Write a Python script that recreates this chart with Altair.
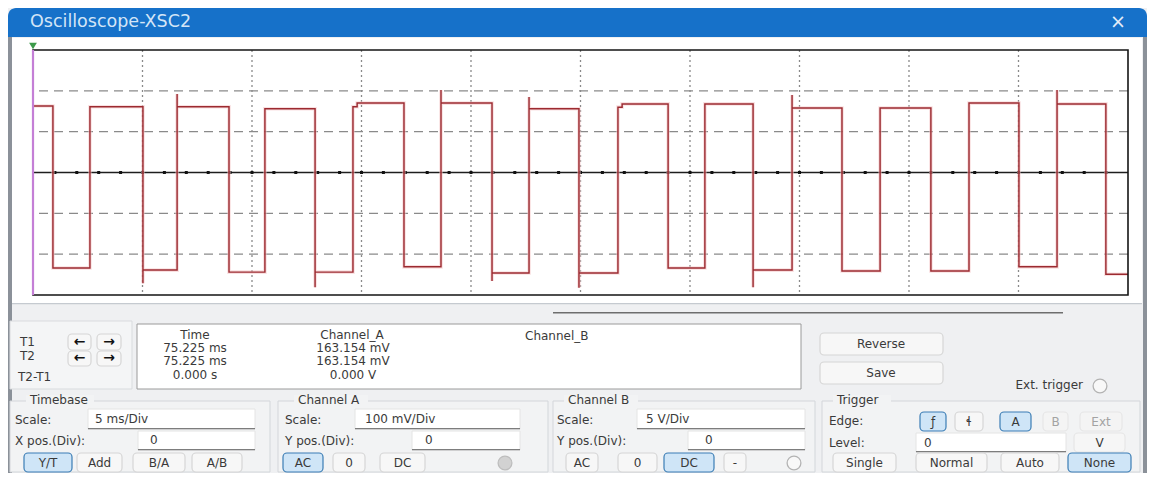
import altair as alt
import pandas as pd

# ------------------------------------------------------------------ data
# Channel A trace (time in ms, amplitude in mV), read from the screen
wave_t = [
    0.00, 0.91, 0.91, 2.60, 2.60, 5.02, 5.02, 5.02, 6.58, 6.58, 6.58,
    8.95, 8.95, 10.59, 10.59, 12.88, 12.88, 12.88, 14.61, 14.61, 14.80, 14.80,
    16.94, 16.94, 18.63, 18.63, 18.63, 20.96, 20.96, 20.96, 22.65, 22.65, 22.65,
    24.93, 24.93, 24.93, 26.71, 26.71, 26.90, 26.90, 29.00, 29.00, 30.68, 30.68,
    32.88, 32.88, 32.88, 34.66, 34.66, 34.66, 36.94, 36.94, 38.68, 38.68, 41.00, 41.00,
    42.74, 42.74, 45.02, 45.02, 46.76, 46.76, 46.76, 48.99, 48.99, 50.00]
wave_mv = [
    163, 163, -234, -234, 161, 161, -271, -239, -239, 192, 161,
    161, -244, -244, 156, 156, -281, -244, -244, 161, 161, 170,
    170, -231, -231, 202, 170, 170, -266, -246, -246, 185, 156,
    156, -282, -246, -246, 160, 160, 168, 168, -234, -234, 168,
    168, -281, -239, -239, 190, 158, 158, -241, -241, 158, 158, -241,
    -241, 170, 170, -231, -231, 202, 168, 168, -249, -249]

grid_t = [5, 10, 15, 20, 25, 30, 35, 40, 45]
grid_mv = [-200, -100, 100, 200]
minor_t = list(range(1, 50))
cursor_t = [0]

time_vals = ["75.225 ms", "75.225 ms", "0.000 s"]
cha_vals = ["163.154 mV", "163.154 mV", "0.000 V"]

# ------------------------------------------------------------------ layout
W, H = 1095, 245
OX, OY = 33, 50          # page position of the screen's top-left corner
BG = "#eff0f2"
TXT = "#3a3a3a"
NBF, NBS = "#f7f7f7", "#d6d6d6"     # normal button
HBF, HBS = "#cfe5f7", "#3b7db5"     # highlighted button


def rect_layer(rows, radius=0, sw=1.0):
    df = pd.DataFrame(rows, columns=["x1", "y1", "x2", "y2", "fill", "stroke"])
    df["x1"] -= OX
    df["x2"] -= OX
    df["y1"] -= OY
    df["y2"] -= OY
    return alt.Chart(df).mark_rect(cornerRadius=radius, strokeWidth=sw).encode(
        x=alt.X("x1:Q", scale=None, axis=None), x2="x2:Q",
        y=alt.Y("y1:Q", scale=None, axis=None), y2="y2:Q",
        fill=alt.Fill("fill:N", scale=None, legend=None),
        stroke=alt.Stroke("stroke:N", scale=None, legend=None))


def text_layer(rows, align="left", font="DejaVu Sans", weight="normal"):
    df = pd.DataFrame(rows, columns=["label", "x", "y", "fs", "color"])
    df["x"] -= OX
    df["y"] -= OY
    return alt.Chart(df).mark_text(align=align, baseline="middle", font=font,
                                   fontWeight=weight).encode(
        x=alt.X("x:Q", scale=None, axis=None),
        y=alt.Y("y:Q", scale=None, axis=None),
        text="label:N",
        size=alt.Size("fs:Q", scale=None, legend=None),
        color=alt.Color("color:N", scale=None, legend=None))


T = "transparent"
panels = rect_layer([
    (8, 37, 12, 473, "#8b9199", T),
    (1143, 37, 1147, 473, "#8b9199", T),
    (12, 38, 1142, 303, "#ffffff", T),
    (12, 303, 1142, 304.2, "#c5cad0", T),
    (553, 312, 1063, 313.5, "#6e6e6e", T),
    (10, 321, 132, 389, "#f4f5f6", "#d9dbde"),
    (137, 324, 801, 389, "#ffffff", "#9a9a9a"),
    (10, 401, 270, 472, "#f2f3f4", "#d3d6da"),
    (278, 401, 548, 472, "#f2f3f4", "#d3d6da"),
    (553, 401, 815, 472, "#f2f3f4", "#d3d6da"),
    (822, 401, 1140, 472, "#f2f3f4", "#d3d6da"),
    (26, 395, 94, 407, "#f2f3f4", T),
    (294, 395, 368, 407, "#f2f3f4", T),
    (564, 395, 638, 407, "#f2f3f4", T),
    (833, 395, 891, 407, "#f2f3f4", T),
    # entry fields
    (88, 409, 255, 429, "#ffffff", "#e4e4e4"),
    (138, 431, 255, 450, "#ffffff", "#e4e4e4"),
    (355, 409, 520, 429, "#ffffff", "#e4e4e4"),
    (412, 431, 520, 450, "#ffffff", "#e4e4e4"),
    (637, 409, 805, 429, "#ffffff", "#e4e4e4"),
    (688, 431, 805, 450, "#ffffff", "#e4e4e4"),
    (916, 433, 1066, 452, "#ffffff", "#e4e4e4"),
    (88, 428, 255, 429.2, "#7d7d7d", T),
    (138, 449, 255, 450.2, "#7d7d7d", T),
    (355, 428, 520, 429.2, "#7d7d7d", T),
    (412, 449, 520, 450.2, "#7d7d7d", T),
    (637, 428, 805, 429.2, "#7d7d7d", T),
    (688, 449, 805, 450.2, "#7d7d7d", T),
    (916, 451, 1066, 452.2, "#7d7d7d", T),
])

title_df = pd.DataFrame({"x1": [8 - OX], "x2": [1147 - OX], "y1": [8 - OY], "y2": [37 - OY]})
titlebar = alt.Chart(title_df).mark_rect(
    color="#1671c9", cornerRadiusTopLeft=8, cornerRadiusTopRight=8).encode(
    x=alt.X("x1:Q", scale=None, axis=None), x2="x2:Q",
    y=alt.Y("y1:Q", scale=None, axis=None), y2="y2:Q")

buttons = rect_layer([
    (68, 334, 91, 350, NBF, NBS), (97, 334, 121, 350, NBF, NBS),
    (68, 351, 91, 366, NBF, NBS), (97, 351, 121, 366, NBF, NBS),
    (820, 333, 943, 355, NBF, NBS), (820, 362, 943, 384, NBF, NBS),
    (24, 453, 72, 472, HBF, HBS), (77, 453, 122, 472, NBF, NBS),
    (133, 453, 185, 472, NBF, NBS), (192, 453, 242, 472, NBF, NBS),
    (283, 453, 323, 472, HBF, HBS), (333, 453, 365, 472, NBF, NBS),
    (380, 453, 425, 472, NBF, NBS),
    (566, 453, 598, 472, NBF, NBS), (618, 453, 657, 472, NBF, NBS),
    (664, 453, 714, 472, HBF, HBS), (724, 453, 746, 472, NBF, NBS),
    (920, 412, 946, 431, HBF, HBS), (955, 412, 983, 431, NBF, NBS),
    (1000, 412, 1031, 431, HBF, HBS), (1043, 412, 1068, 431, "#f4f4f4", "#e6e6e6"),
    (1080, 412, 1122, 431, "#f4f4f4", "#e6e6e6"), (1074, 433, 1125, 452, "#f6f6f6", "#e6e6e6"),
    (833, 453, 896, 472, NBF, NBS), (916, 453, 987, 472, NBF, NBS),
    (1001, 453, 1059, 472, NBF, NBS), (1068, 453, 1131, 472, HBF, HBS),
], radius=4, sw=1.2)

circ_df = pd.DataFrame({"x": [1100 - OX, 505 - OX, 794 - OX],
                        "y": [386 - OY, 463 - OY, 463 - OY],
                        "fill": ["#f8f8f8", "#d2d2d2", "#f8f8f8"],
                        "stroke": ["#b3b3b3", "#bdbdbd", "#b3b3b3"]})
circles = alt.Chart(circ_df).mark_circle(size=190, strokeWidth=1.3, opacity=1).encode(
    x=alt.X("x:Q", scale=None, axis=None), y=alt.Y("y:Q", scale=None, axis=None),
    fill=alt.Fill("fill:N", scale=None, legend=None),
    stroke=alt.Stroke("stroke:N", scale=None, legend=None))

marker = alt.Chart(pd.DataFrame({"x": [33 - OX], "y": [46 - OY]})).mark_point(
    shape="triangle-down", filled=True, color="#3c9a4a", size=60, opacity=1).encode(
    x=alt.X("x:Q", scale=None, axis=None), y=alt.Y("y:Q", scale=None, axis=None))

# ------------------------------------------------------------------ scope screen
xs = alt.Scale(domain=[0, 50], nice=False, zero=False)
ys = alt.Scale(domain=[-300, 300], nice=False, zero=False)

vgrid = alt.Chart(pd.DataFrame({"t": grid_t})).mark_rule(
    color="#8a8a8a", strokeDash=[2, 3], strokeWidth=1.3).encode(
    x=alt.X("t:Q", scale=xs, axis=None))
hgrid = alt.Chart(pd.DataFrame({"mv": grid_mv})).mark_rule(
    color="#8a8a8a", strokeDash=[9, 6], strokeWidth=1.1).encode(
    y=alt.Y("mv:Q", scale=ys, axis=None))
center = alt.Chart(pd.DataFrame({"mv": [0]})).mark_rule(
    color="#1e1e1e", strokeWidth=1.5).encode(y=alt.Y("mv:Q", scale=ys, axis=None))
dots = alt.Chart(pd.DataFrame({"t": minor_t, "mv": [0] * len(minor_t)})).mark_square(
    size=9, color="#111111", opacity=1).encode(
    x=alt.X("t:Q", scale=xs, axis=None), y=alt.Y("mv:Q", scale=ys, axis=None))

wave_df = pd.DataFrame({"i": list(range(len(wave_t))), "t": wave_t, "mv": wave_mv})
halo = alt.Chart(wave_df).mark_line(color="#f4c6c8", strokeWidth=3.6, opacity=0.55).encode(
    x=alt.X("t:Q", scale=xs, axis=None), y=alt.Y("mv:Q", scale=ys, axis=None),
    order=alt.Order("i:Q"))
trace = alt.Chart(wave_df).mark_line(color="#9c2a30", strokeWidth=1.45).encode(
    x=alt.X("t:Q", scale=xs, axis=None), y=alt.Y("mv:Q", scale=ys, axis=None),
    order=alt.Order("i:Q"))

border = alt.Chart(pd.DataFrame({"t": [0], "t2": [50], "mv": [-300], "mv2": [300]})).mark_rect(
    fillOpacity=0, stroke="#151515", strokeWidth=1.6).encode(
    x=alt.X("t:Q", scale=xs, axis=None), x2="t2:Q",
    y=alt.Y("mv:Q", scale=ys, axis=None), y2="mv2:Q")
cursor = alt.Chart(pd.DataFrame({"t": cursor_t})).mark_rule(
    color="#c47fd6", strokeWidth=2.2).encode(x=alt.X("t:Q", scale=xs, axis=None))

# ------------------------------------------------------------------ texts
title_txt = text_layer([("Oscilloscope-XSC2", 30, 22, 17.5, "#d3e5f7")])
close_txt = text_layer([("×", 1118, 22, 19, "#e3edf8")], align="center")

left_txt = text_layer([
    ("T1", 20, 342, 12, TXT), ("T2", 20, 356, 12, TXT), ("T2-T1", 18, 377, 12, TXT),
    ("Channel_B", 525, 336, 12, TXT),
    ("Timebase", 30, 400, 12, TXT), ("Scale:", 15, 420, 12, TXT),
    ("5 ms/Div", 95, 419, 12, TXT), ("X pos.(Div):", 15, 441, 12, TXT), ("0", 150, 440, 12, TXT),
    ("Channel A", 298, 400, 12, TXT), ("Scale:", 285, 420, 12, TXT),
    ("100 mV/Div", 365, 419, 12, TXT), ("Y pos.(Div):", 285, 441, 12, TXT), ("0", 425, 440, 12, TXT),
    ("Channel B", 568, 400, 12, TXT), ("Scale:", 557, 420, 12, TXT),
    ("5  V/Div", 646, 419, 12, TXT), ("Y pos.(Div):", 557, 441, 12, TXT), ("0", 705, 440, 12, TXT),
    ("Trigger", 837, 400, 12, TXT), ("Edge:", 829, 421, 12, TXT), ("Level:", 829, 443, 12, TXT),
    ("0", 924, 443, 12, TXT),
])

readout_rows = [("Time", 195, 335, 12, TXT), ("Channel_A", 352, 335, 12, TXT)]
for k, (tv, av) in enumerate(zip(time_vals, cha_vals)):
    yy = [348, 361, 375][k]
    readout_rows.append((tv, 195, yy, 12, TXT))
    readout_rows.append((av, 353, yy, 12, TXT))

center_txt = text_layer(readout_rows + [
    ("Reverse", 881, 344, 12, TXT), ("Save", 881, 373, 12, TXT),
    ("Y/T", 48, 463, 12, TXT), ("Add", 99.5, 463, 12, TXT), ("B/A", 159, 463, 12, TXT),
    ("A/B", 217, 463, 12, TXT), ("AC", 303, 463, 12, TXT), ("0", 349, 463, 12, TXT),
    ("DC", 402.5, 463, 12, TXT), ("AC", 582, 463, 12, TXT), ("0", 637.5, 463, 12, TXT),
    ("DC", 689, 463, 12, TXT), ("-", 735, 463, 12, TXT),
    ("ƒ", 933, 421.5, 12, TXT), ("ɬ", 969, 421.5, 12, TXT), ("A", 1015.5, 421.5, 12, TXT),
    ("B", 1055.5, 421.5, 12, "#a3a3a3"), ("Ext", 1101, 421.5, 12, "#a3a3a3"),
    ("V", 1099.5, 443, 12, TXT),
    ("Single", 864.5, 463, 12, TXT), ("Normal", 951.5, 463, 12, TXT),
    ("Auto", 1030, 463, 12, TXT), ("None", 1099.5, 463, 12, TXT),
], align="center")

arrow_txt = text_layer([
    ("←", 79.5, 342, 14, "#111111"), ("→", 109, 342, 14, "#111111"),
    ("←", 79.5, 358, 14, "#111111"), ("→", 109, 358, 14, "#111111"),
], align="center", weight="bold")

right_txt = text_layer([("Ext. trigger", 1083, 385, 12, TXT)], align="right")

chart = alt.layer(
    panels, titlebar, buttons, circles,
    vgrid, hgrid, center, dots, halo, trace, border, cursor, marker,
    title_txt, close_txt, left_txt, center_txt, arrow_txt, right_txt,
).properties(
    width=W, height=H,
    padding={"left": 25, "top": 42, "right": 19, "bottom": 178},
    autosize=alt.AutoSizeParams(type="none"),
    background=BG,
).configure_view(stroke="transparent")

chart.save("out.html", embed_options={"renderer": "svg", "actions": False})
